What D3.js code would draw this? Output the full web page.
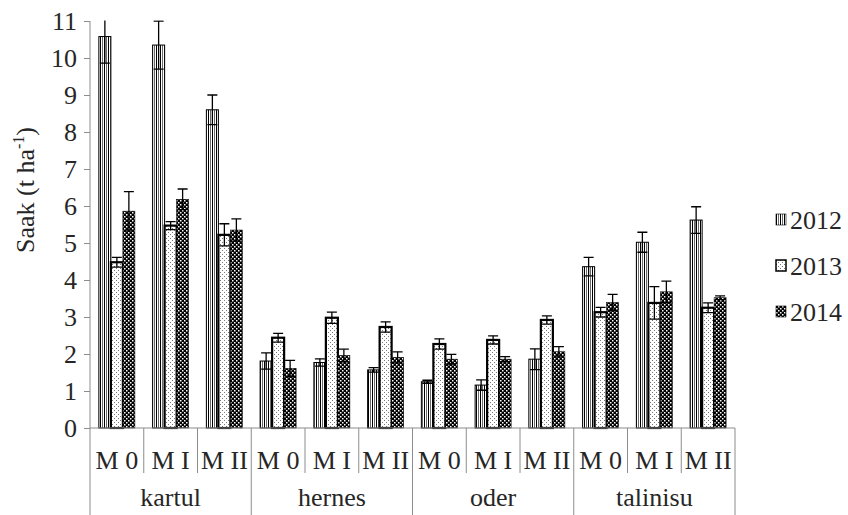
<!DOCTYPE html>
<html><head><meta charset="utf-8">
<script src="https://cdn.jsdelivr.net/npm/d3@7"></script>
<style>
svg text, svg tspan { font-family: "Times New Roman", "Liberation Serif", Tinos, FreeSerif !important; }
</style>
</head><body style="margin:0">
<svg id="c" width="848" height="515" font-family="Times New Roman"></svg>
<script>
const groups = ["kartul","hernes","oder","talinisu"];
const subs = ["M 0","M I","M II"];
const years = ["2012","2013","2014"];
const v2012 = [10.58,10.35,8.6, 1.81,1.77,1.57, 1.25,1.16,1.86, 4.36,5.02,5.62];
const e2012 = [0.72,0.65,0.4, 0.22,0.1,0.06, 0.04,0.14,0.28, 0.25,0.27,0.36];
const v2013 = [4.48,5.47,5.22, 2.44,2.98,2.73, 2.27,2.38,2.92, 3.13,3.38,3.25];
const e2013 = [0.13,0.11,0.3, 0.12,0.15,0.14, 0.14,0.11,0.11, 0.13,0.44,0.13];
const v2014 = [5.86,6.18,5.35, 1.61,1.96,1.91, 1.86,1.86,2.06, 3.39,3.68,3.52];
const e2014 = [0.53,0.28,0.3, 0.22,0.17,0.15, 0.13,0.07,0.14, 0.22,0.29,0.05];
const yTicks = [0,1,2,3,4,5,6,7,8,9,10,11];

const vals = [v2012, v2013, v2014];
const errs = [e2012, e2013, e2014];
const cats = [];
groups.forEach(g => subs.forEach(s => cats.push(g + "|" + s)));

const svg = d3.select("#c");
const L = 90, R = 735, T = 21, B = 428;
const FF = '"Times New Roman", "Liberation Serif", Tinos, FreeSerif';
const axisCol = "#8c8c8c", textCol = "#262626";
const fs = 26;

const x = d3.scaleBand().domain(cats).range([L, R]).padding(0);
const xg = d3.scaleBand().domain(groups).range([L, R]).padding(0);
const xi = d3.scaleBand().domain(years).range([0, x.bandwidth()]).paddingInner(0).paddingOuter(0.74);
const y = d3.scaleLinear().domain([0, 11]).range([B, T]);

// patterns
const defs = svg.append("defs");
const p1 = defs.append("pattern").attr("id","p2012").attr("patternUnits","userSpaceOnUse").attr("width",4).attr("height",4);
p1.append("rect").attr("width",4).attr("height",4).attr("fill","#fff");
p1.append("rect").attr("x",0).attr("width",1).attr("height",4).attr("fill","#000");
p1.append("rect").attr("x",2).attr("width",1).attr("height",4).attr("fill","#6a6a6a");
const p2 = defs.append("pattern").attr("id","p2013").attr("patternUnits","userSpaceOnUse").attr("width",4).attr("height",4);
p2.append("rect").attr("width",4).attr("height",4).attr("fill","#fff");
p2.append("rect").attr("x",0).attr("y",0).attr("width",1).attr("height",1).attr("fill","#777");
p2.append("rect").attr("x",2).attr("y",2).attr("width",1).attr("height",1).attr("fill","#777");
const p3 = defs.append("pattern").attr("id","p2014").attr("patternUnits","userSpaceOnUse").attr("width",4).attr("height",4);
p3.append("rect").attr("width",4).attr("height",4).attr("fill","#000");
p3.append("rect").attr("x",0).attr("y",0).attr("width",1.5).attr("height",1.5).attr("fill","#fff");
p3.append("rect").attr("x",2).attr("y",2).attr("width",1.5).attr("height",1.5).attr("fill","#fff");
const fills = ["url(#p2012)","url(#p2013)","url(#p2014)"];
const strokes = [{c:"#000",w:1},{c:"#000",w:2.2},{c:"#000",w:0.6}];

defs.append("clipPath").attr("id","plotclip").append("rect").attr("x",0).attr("y",T-0.5).attr("width",848).attr("height",B-T+1);

// axes
const yAxis = d3.axisLeft(y).tickValues(yTicks).tickSize(6).tickPadding(7).tickFormat(d3.format("d"));
const ga = svg.append("g").attr("transform",`translate(${L},0)`).call(yAxis);
ga.attr("font-family",FF).attr("font-size",fs);
ga.select(".domain").attr("stroke",axisCol).attr("d",`M0,${T}V${B}`);
ga.selectAll(".tick line").attr("stroke",axisCol);
ga.selectAll(".tick text").attr("font-family",FF).style("font-family",FF).attr("font-size",fs).attr("fill",textCol);

// bars
const bars = svg.append("g");
years.forEach((yr, k) => {
  bars.selectAll(null).data(cats).enter().append("rect")
    .attr("x", d => x(d) + xi(yr))
    .attr("y", (d,i) => y(vals[k][i]))
    .attr("width", xi.bandwidth())
    .attr("height", (d,i) => B - y(vals[k][i]))
    .attr("fill", fills[k])
    .attr("stroke", strokes[k].c).attr("stroke-width", strokes[k].w);
});
// error bars
const eg = svg.append("g").attr("clip-path","url(#plotclip)").attr("stroke","#000").attr("stroke-width",1.3);
years.forEach((yr, k) => {
  cats.forEach((c, i) => {
    const cx = x(c) + xi(yr) + xi.bandwidth()/2;
    const hi = y(vals[k][i] + errs[k][i]), lo = y(vals[k][i] - errs[k][i]);
    eg.append("line").attr("x1",cx).attr("x2",cx).attr("y1",hi).attr("y2",lo);
    eg.append("line").attr("x1",cx-5).attr("x2",cx+5).attr("y1",hi).attr("y2",hi);
    eg.append("line").attr("x1",cx-5).attr("x2",cx+5).attr("y1",lo).attr("y2",lo);
  });
});

// x axis
svg.append("line").attr("x1",L).attr("x2",R).attr("y1",B).attr("y2",B).attr("stroke",axisCol).attr("stroke-width",1.2);
cats.forEach((c, i) => {
  const xx = x(c);
  const isGroupEdge = i % subs.length === 0;
  svg.append("line").attr("x1",xx).attr("x2",xx).attr("y1",B).attr("y2",isGroupEdge ? 515 : 473).attr("stroke",axisCol);
});
svg.append("line").attr("x1",R).attr("x2",R).attr("y1",B).attr("y2",515).attr("stroke",axisCol);
const txt = sel => sel.attr("font-family",FF).style("font-family",FF).attr("font-size",fs).attr("fill",textCol);
svg.selectAll(null).data(cats).enter().append("text")
  .attr("x", d => x(d) + x.bandwidth()/2).attr("y", 469)
  .attr("text-anchor","middle").call(txt)
  .text(d => d.split("|")[1]);
svg.selectAll(null).data(groups).enter().append("text")
  .attr("x", d => xg(d) + xg.bandwidth()/2).attr("y", 506)
  .attr("text-anchor","middle").call(txt)
  .text(d => d);

// y title
const t = svg.append("text").attr("transform","translate(34,190) rotate(-90)")
  .attr("text-anchor","middle").call(txt);
t.append("tspan").text("Saak (t ha");
t.append("tspan").attr("font-size",16).attr("dy",-10).text("-1");
t.append("tspan").attr("dy",10).text(")");

// legend
const lg = svg.append("g");
years.forEach((yr, k) => {
  const cy = 220 + k * 46;
  lg.append("rect").attr("x",776).attr("y",cy-6).attr("width",10).attr("height",11)
    .attr("fill",fills[k]).attr("stroke",strokes[k].c).attr("stroke-width",k===1?1.5:0.6);
  lg.append("text").attr("x",790).attr("y",cy+9).call(txt).text(yr);
});
</script>
</body></html>
